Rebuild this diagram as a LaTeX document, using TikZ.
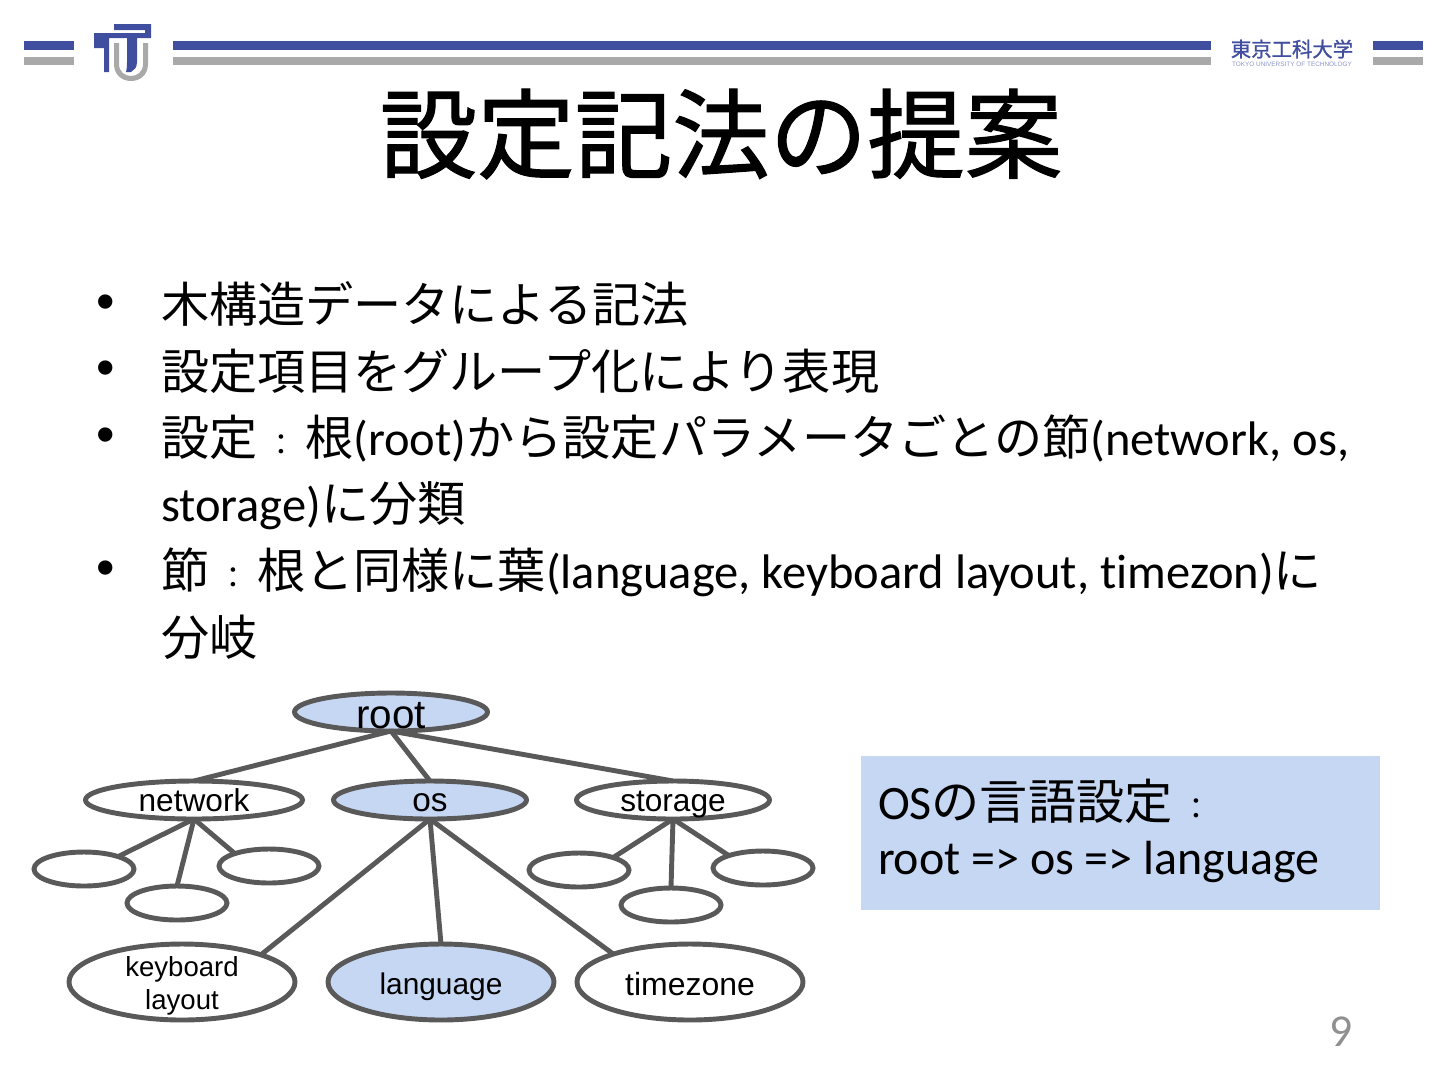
\documentclass[tikz,border=0pt]{standalone}
\usepackage{fontspec}
\setmainfont[Ligatures=NoCommon]{Carlito}
\newfontfamily\jpfont{Noto Sans CJK JP}
\newfontfamily\jpbold[FakeBold=1.2]{Noto Sans CJK JP}
\newfontfamily\arialfont{Liberation Sans}
\usetikzlibrary{shapes.geometric}
\definecolor{barblue}{HTML}{3F4E9F}
\definecolor{bargray}{HTML}{A9A9A9}
\definecolor{edgegray}{HTML}{595959}
\definecolor{nodeblue}{HTML}{C6D7F3}
\newcommand{\jp}[1]{{\jpfont\fontsize{27.4}{30}\selectfont #1}}
\newcommand{\cln}{\makebox[27.4pt]{\fontsize{17}{20}\selectfont ：}}
\newcommand{\intext}[2]{\raisebox{-#1\pxu}[0pt][0pt]{#2}}
\tikzset{
  bartop/.style={fill=barblue,draw=none},
  barlow/.style={fill=bargray,draw=none},
  body/.style={anchor=base west,inner sep=0pt,outer sep=0pt,font=\fontsize{27.6}{30}\selectfont},
  dot/.style={anchor=center,inner sep=0pt,font=\arialfont\fontsize{30}{32}\selectfont},
  tnode/.style={ellipse,draw=edgegray,line width=2.8pt,fill=white,inner sep=0pt,outer sep=0pt,text=black},
  big/.style={tnode,minimum width=193\pxu,minimum height=38\pxu},
  wide/.style={tnode,minimum width=217\pxu,minimum height=38\pxu},
  leaf/.style={tnode,minimum width=100\pxu,minimum height=34\pxu},
  low/.style={tnode,minimum width=226\pxu,minimum height=76\pxu},
  sel/.style={fill=nodeblue},
  edge/.style={draw=edgegray,line width=2.8pt},
}
\newlength{\pxu}
\setlength{\pxu}{0.02cm}
\begin{document}
\begin{tikzpicture}[x=0.02cm,y=-0.02cm]
\useasboundingbox (0,0) rectangle (1440,1080);
\fill[bartop] (24,41) rectangle (74,50);
\fill[barlow] (24,57) rectangle (74,65);
\fill[bartop] (173,41) rectangle (1211,50);
\fill[barlow] (173,57) rectangle (1211,65);
\fill[bartop] (1373,41) rectangle (1423,50);
\fill[barlow] (1373,57) rectangle (1423,65);
\fill[barlow] (114,43) -- (119,43) -- (119,64) .. controls (119,72) and (125,76) .. (131,76) .. controls (137,76) and (143,72) .. (143,64) -- (143,43) -- (148,43) -- (148,64) .. controls (148,75) and (140,81) .. (131,81) .. controls (122,81) and (114,75) .. (114,64) -- cycle;
\fill[bartop] (114,24) -- (151,24) -- (151,38) -- (137,38) -- (137,62) .. controls (137,68) and (134,70) .. (131,72) -- (126,72) .. controls (127,68) and (127,66) .. (127,62) -- (127,38) -- (109,38) -- (109,72) -- (104,72) -- (104,48) -- (94,48) -- (94,33) -- (145,33) -- (145,30) -- (114,30) -- cycle;
\node[inner sep=0pt,text=barblue] (uname) at (1292,49) {\jpbold\fontsize{11.6}{14}\selectfont 東京工科大学};
\node[inner sep=0pt,text=barblue!60] (uname2) at (1292,64.5) {\arialfont\fontsize{3.65}{4}\selectfont TOKYO UNIVERSITY OF TECHNOLOGY};
\node[inner sep=0pt] (title) at (721,134) {\jpbold\fontsize{55.5}{60}\selectfont 設定記法の提案};
\node[dot] (dota) at (106,307) {•};
\node[dot] (dotb) at (106,373) {•};
\node[dot] (dotc) at (106,440) {•};
\node[dot] (dotd) at (106,573) {•};
\node[body] (linea) at (161,322) {\jp{木構造データによる記法}};
\node[body] (lineb) at (161,389) {\jp{設定項目をグループ化により表現}};
\node[body] (linec) at (161,455) {\jp{設定\cln 根}(root)\jp{から設定パラメータごとの節}(network, os,};
\node[body] (lined) at (161,521) {storage)\jp{に分類}};
\node[body] (linee) at (161,588) {\jp{節\cln 根と同様に葉}(language, keyboard layout, timezon)\jp{に}};
\node[body] (linef) at (161,655) {\jp{分岐}};
\node[big,sel,font=\arialfont\fontsize{23}{26}\selectfont] (root) at (391,712) {\intext{16}{root}};
\node[wide,font=\arialfont\fontsize{18}{20}\selectfont] (network) at (194,800) {\intext{11}{network}};
\node[big,sel,font=\arialfont\fontsize{19}{20}\selectfont] (os) at (430,800) {\intext{11}{os}};
\node[big,font=\arialfont\fontsize{18}{20}\selectfont] (storage) at (673,800) {\intext{11}{storage}};
\node[leaf] (netleafa) at (84,869) {};
\node[leaf] (netleafb) at (177,903) {};
\node[leaf] (netleafc) at (269,866) {};
\node[leaf] (stoleafa) at (579,870) {};
\node[leaf] (stoleafb) at (671,905) {};
\node[leaf] (stoleafc) at (763,868) {};
\node[low] (keyboard) at (182,982) {};
\node[inner sep=0pt,align=center,font=\arialfont\fontsize{15.7}{18.7}\selectfont] (keyboardtext) at (182,986) {keyboard\\layout};
\node[low,sel,font=\arialfont\fontsize{17}{20}\selectfont] (language) at (441,982) {\intext{12}{language}};
\node[low,font=\arialfont\fontsize{18.2}{20}\selectfont] (timezone) at (690,982) {\intext{13}{timezone}};
\draw[edge] (root.south) -- (network.north);
\draw[edge] (root.south) -- (os.north);
\draw[edge] (root.south) -- (storage.north);
\draw[edge] (network.south) -- (netleafa.20);
\draw[edge] (network.south) -- (netleafb.north);
\draw[edge] (network.south) -- (netleafc.160);
\draw[edge] (storage.south) -- (stoleafa.20);
\draw[edge] (storage.south) -- (stoleafb.north);
\draw[edge] (storage.south) -- (stoleafc.160);
\draw[edge] (os.south) -- (keyboard.19);
\draw[edge] (os.south) -- (language.north);
\draw[edge] (os.south) -- (timezone.160);
\node[fill=nodeblue,minimum width=519\pxu,minimum height=154\pxu,inner sep=0pt,outer sep=0pt] (osbox) at (1120.5,833) {};
\node[body,font=\fontsize{27.3}{30}\selectfont] (boxa) at (878,819) {OS\jp{の言語設定\cln}};
\node[body,font=\fontsize{27.3}{30}\selectfont] (boxb) at (878,874) {root => os => language};
\node[inner sep=0pt,text=bargray!85!black,font=\fontsize{26}{28}\selectfont] (pageno) at (1341,1032) {9};
\end{tikzpicture}
\end{document}
